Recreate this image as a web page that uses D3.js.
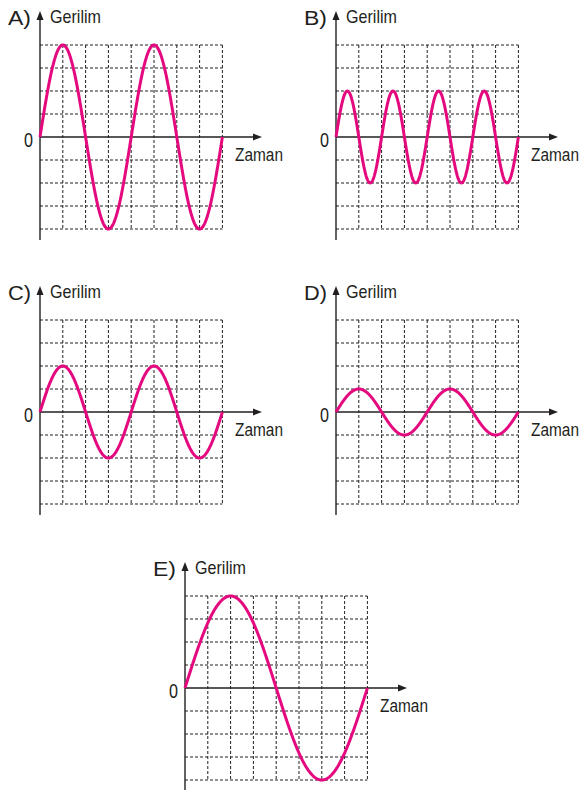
<!DOCTYPE html>
<html>
<head>
<meta charset="utf-8">
<script src="https://cdn.jsdelivr.net/npm/d3@7"></script>
<style>
  html, body { margin: 0; padding: 0; background: #fff; }
  svg { display: block; }
  text { font-family: "Liberation Sans", Arial, sans-serif; fill: #231f20; }
</style>
</head>
<body>
<svg id="chart" width="584" height="790"></svg>
<script>
// Five voltage-vs-time options, each a sine wave on an 8x8 dashed grid.
const panelLabels = ["A)", "B)", "C)", "D)", "E)"];
// amplitude in grid squares
const amplitudes = [4, 2, 2, 1, 4];
// period in grid squares (horizontal)
const periods = [4, 2, 4, 4, 8];
// origin of each panel (where the time axis meets the voltage axis)
const originX = [40, 336, 40, 336, 185];
const originY = [137, 137, 412, 412, 688];

const gridCols = 8, gridRows = 8;
const cellW = 22.8, cellH = 23;
const yAxisLabel = "Gerilim";
const xAxisLabel = "Zaman";
const zeroLabel = "0";

const svg = d3.select("#chart");
const waveColor = "#e5097f";
const axisColor = "#231f20";

// Condensed-looking text: draw at the given size, then squeeze horizontally to a width.
function label(g, str, x, y, size, width, anchor) {
  const t = g.append("text")
    .attr("font-size", size)
    .attr("text-anchor", anchor || "start")
    .text(str);
  const natural = t.node().getComputedTextLength();
  const sx = width ? width / natural : 1;
  t.attr("transform", `translate(${x},${y}) scale(${sx},1)`);
  return t;
}

panelLabels.forEach((lbl, i) => {
  const ox = originX[i], oy = originY[i];
  const g = svg.append("g");

  const x = d3.scaleLinear().domain([0, gridCols]).range([ox, ox + gridCols * cellW]);
  const y = d3.scaleLinear().domain([-gridRows / 2, gridRows / 2])
    .range([oy + gridRows / 2 * cellH, oy - gridRows / 2 * cellH]);

  // dashed grid
  const grid = g.append("g")
    .attr("stroke", "#231f20")
    .attr("stroke-width", 1)
    .attr("stroke-dasharray", "3,2")
    .attr("fill", "none");
  d3.range(1, gridCols + 1).forEach(c => {
    grid.append("line")
      .attr("x1", x(c)).attr("x2", x(c))
      .attr("y1", y(gridRows / 2)).attr("y2", y(-gridRows / 2));
  });
  d3.range(-gridRows / 2, gridRows / 2 + 1).forEach(r => {
    if (r === 0) return;
    grid.append("line")
      .attr("x1", x(0)).attr("x2", x(gridCols))
      .attr("y1", y(r)).attr("y2", y(r));
  });

  // axes with arrowheads
  const yTop = oy - 126, yBottom = Math.min(oy + 103, 792);
  const xEnd = ox + 222;
  g.append("line")
    .attr("x1", ox).attr("x2", ox).attr("y1", yTop + 6).attr("y2", yBottom)
    .attr("stroke", axisColor).attr("stroke-width", 1.4);
  g.append("path")
    .attr("d", `M${ox},${yTop} L${ox - 3.5},${yTop + 9} L${ox + 3.5},${yTop + 9} Z`)
    .attr("fill", axisColor);
  g.append("line")
    .attr("x1", ox).attr("x2", xEnd - 6).attr("y1", oy).attr("y2", oy)
    .attr("stroke", axisColor).attr("stroke-width", 1.4);
  g.append("path")
    .attr("d", `M${xEnd},${oy} L${xEnd - 9},${oy - 3.5} L${xEnd - 9},${oy + 3.5} Z`)
    .attr("fill", axisColor);

  // wave
  const amp = amplitudes[i], per = periods[i];
  const pts = d3.range(0, gridCols + 0.0001, 0.02).map(t => [t, amp * Math.sin(2 * Math.PI * t / per)]);
  const line = d3.line().x(d => x(d[0])).y(d => y(d[1]));
  g.append("path")
    .datum(pts)
    .attr("d", line)
    .attr("fill", "none")
    .attr("stroke", waveColor)
    .attr("stroke-width", 3);

  // texts
  label(g, lbl, ox - 9, oy - 112, 21, 23, "end");
  label(g, yAxisLabel, ox + 10, oy - 114, 17.5, 51);
  label(g, zeroLabel, ox - 7, oy + 9.5, 20.5, 9, "end");
  label(g, xAxisLabel, ox + 195, oy + 23.5, 18.5, 48);
});
</script>
</body>
</html>
